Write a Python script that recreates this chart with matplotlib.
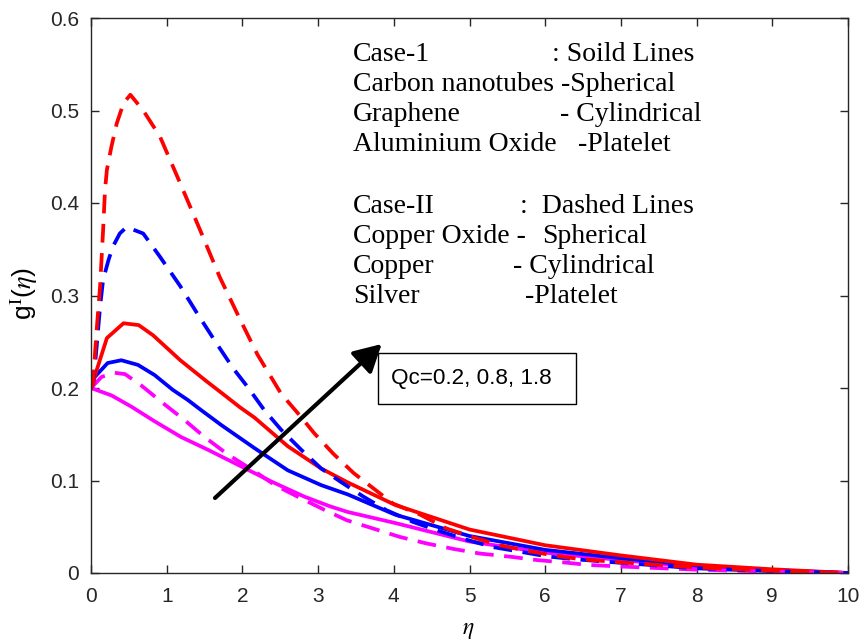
import matplotlib
matplotlib.use("Agg")
import matplotlib.pyplot as plt
from matplotlib.patches import Rectangle
import numpy as np

# ---- data ----
eta_red_solid = [0, 0.21, 0.43, 0.63, 0.82, 1.06, 1.18, 1.53, 1.72, 1.97, 2.16, 2.6, 3.04, 3.39, 4.02, 5.0, 6.0, 7.0, 8.0, 9.0, 10]
g_red_solid = [0.200, 0.254, 0.270, 0.268, 0.257, 0.239, 0.230, 0.207, 0.195, 0.179, 0.168, 0.137, 0.113, 0.098, 0.0735, 0.047, 0.030, 0.019, 0.009, 0.004, 0.0]

eta_blue_solid = [0, 0.05, 0.22, 0.40, 0.62, 0.84, 1.08, 1.28, 1.44, 1.72, 2.16, 2.6, 3.04, 3.39, 4.02, 5.0, 6.0, 7.0, 8.0, 9.0, 10]
g_blue_solid = [0.200, 0.212, 0.227, 0.230, 0.225, 0.214, 0.198, 0.187, 0.177, 0.160, 0.135, 0.111, 0.095, 0.085, 0.063, 0.040, 0.025, 0.016, 0.008, 0.003, 0.0]

eta_mag_solid = [0, 0.27, 0.53, 0.84, 1.19, 1.55, 1.94, 2.38, 2.82, 3.16, 3.39, 4.02, 5.0, 6.0, 7.0, 8.0, 9.0, 10]
g_mag_solid = [0.200, 0.192, 0.180, 0.164, 0.147, 0.133, 0.117, 0.099, 0.0825, 0.072, 0.066, 0.054, 0.034, 0.022, 0.014, 0.0065, 0.003, 0.0]

eta_red_dash = [0, 0.03, 0.053, 0.075, 0.12, 0.16, 0.185, 0.21, 0.27, 0.34, 0.43, 0.52, 0.69, 0.91, 1.18, 1.44, 1.70, 1.97, 2.2, 2.51, 2.73, 2.95, 3.2, 3.47, 3.73, 3.99, 4.35, 4.7, 5.05, 5.4, 5.76, 6.11, 6.46, 7.0, 8.0, 9.0, 10]
g_red_dash = [0.200, 0.205, 0.2375, 0.263, 0.31, 0.371, 0.414, 0.436, 0.461, 0.486, 0.508, 0.517, 0.50, 0.472, 0.421, 0.371, 0.32, 0.274, 0.236, 0.194, 0.173, 0.151, 0.129, 0.108, 0.0915, 0.075, 0.063, 0.048, 0.0385, 0.030, 0.024, 0.019, 0.015, 0.0115, 0.006, 0.0025, 0.0]

eta_blue_dash = [0, 0.03, 0.075, 0.12, 0.16, 0.23, 0.29, 0.38, 0.47, 0.69, 0.91, 1.18, 1.40, 1.66, 1.88, 2.07, 2.29, 2.51, 2.78, 3.04, 3.29, 3.6, 3.9, 4.26, 4.61, 4.96, 5.31, 5.67, 6.02, 6.37, 7.0, 8.0, 9.0, 10]
g_blue_dash = [0.200, 0.205, 0.245, 0.288, 0.317, 0.338, 0.353, 0.367, 0.374, 0.367, 0.342, 0.31, 0.281, 0.248, 0.221, 0.201, 0.176, 0.155, 0.133, 0.113, 0.099, 0.0825, 0.068, 0.055, 0.045, 0.036, 0.028, 0.023, 0.018, 0.015, 0.011, 0.005, 0.002, 0.0]

eta_mag_dash = [0, 0.14, 0.31, 0.45, 0.66, 0.93, 1.24, 1.5, 1.81, 2.16, 2.43, 2.73, 3.09, 3.38, 3.73, 4.08, 4.43, 4.79, 5.14, 5.54, 5.89, 6.24, 6.57, 7.0, 8.0, 9.0, 10]
g_mag_dash = [0.200, 0.212, 0.2165, 0.215, 0.203, 0.185, 0.165, 0.147, 0.128, 0.110, 0.095, 0.0825, 0.068, 0.057, 0.048, 0.039, 0.032, 0.026, 0.021, 0.0176, 0.014, 0.0115, 0.0087, 0.007, 0.0036, 0.0015, 0.0]

x_ticks = list(range(0, 11))
y_ticks = [0, 0.1, 0.2, 0.3, 0.4, 0.5, 0.6]
y_ticklabels = ["0", "0.1", "0.2", "0.3", "0.4", "0.5", "0.6"]

case1_left = ["Case-1", "Carbon nanotubes -Spherical", "Graphene", "Aluminium Oxide"]
case1_right = [": Soild Lines", "", "- Cylindrical", "-Platelet"]
case2_left = ["Case-II", "Copper Oxide -", "Copper", "Silver"]
case2_right = [":  Dashed Lines", "Spherical", "- Cylindrical", "-Platelet"]

# ---- figure ----
plt.rcParams['mathtext.fontset'] = 'stix'
fig = plt.figure(figsize=(8.64, 6.44), dpi=100)
ax = fig.add_axes([91/864, 1 - 573/644, 757/864, 555/644])

RED, BLUE, MAG = '#ff0000', '#0000ff', '#ff00ff'
lw = 2.7
dash = (5.0, 2.8)
ax.plot(eta_mag_solid, g_mag_solid, color=MAG, lw=lw)
ax.plot(eta_blue_solid, g_blue_solid, color=BLUE, lw=lw)
ax.plot(eta_red_solid, g_red_solid, color=RED, lw=lw)
ax.plot(eta_mag_dash, g_mag_dash, color=MAG, lw=lw, dashes=dash)
ax.plot(eta_blue_dash, g_blue_dash, color=BLUE, lw=lw, dashes=dash)
ax.plot(eta_red_dash, g_red_dash, color=RED, lw=lw, dashes=dash)

ax.set_xlim(0, 10)
ax.set_ylim(0, 0.6)
ax.set_xticks(x_ticks)
ax.set_yticks(y_ticks)
ax.set_yticklabels(y_ticklabels)
for lab in ax.get_xticklabels() + ax.get_yticklabels():
    lab.set_fontfamily('Liberation Sans')
    lab.set_fontsize(15)
    lab.set_color('#262626')
ax.tick_params(direction='in', length=6, width=1.0, top=True, right=True,
               colors='#262626')
ax.tick_params(axis='y', pad=8.5)
ax.tick_params(axis='x', pad=10)
for s in ax.spines.values():
    s.set_linewidth(1.0)
    s.set_color('#262626')

ax.set_xlabel(r'$\eta$', fontsize=17)
ax.xaxis.set_label_coords(0.498, -0.079)
ax.set_ylabel(r'g$^{\mathrm{I}}$($\eta$)', fontsize=19, family='Liberation Sans')
ax.yaxis.set_label_coords(-0.067, 0.5 + (573 - 294 - 277.5) / 555)

# serif annotation text
def px2data(x, y):
    return (x - 91) / 75.7, (573 - y) / 925.0

serif = dict(family='Liberation Serif', fontsize=20, color='black', va='baseline')
base1 = [61, 91, 121, 151]
base2 = [213, 243, 273, 303]
right1_x = [551.7, None, 560, 578.3]
right2_x = [520, 541.7, 513.3, 525]
for txt, rt, rx, by in zip(case1_left, case1_right, right1_x, base1):
    ax.text(*px2data(353, by), txt, **serif)
    if rt:
        ax.text(*px2data(rx, by), rt, **serif)
for txt, rt, rx, by in zip(case2_left, case2_right, right2_x, base2):
    ax.text(*px2data(353, by), txt, **serif)
    if rt:
        ax.text(*px2data(rx, by), rt, **serif)

# arrow
ax.annotate('', xy=px2data(381.7, 344), xytext=px2data(215, 498),
            arrowprops=dict(arrowstyle='-|>,head_length=0.55,head_width=0.3',
                            lw=3.0, color='black',
                            mutation_scale=30, shrinkA=0, shrinkB=0))

# Qc box
bx0, by0 = px2data(378.3, 404)
bx1, by1 = px2data(576, 352.7)
ax.add_patch(Rectangle((bx0, by0), bx1 - bx0, by1 - by0, fill=False,
                       edgecolor='black', lw=1.0, zorder=5))
ax.text(*px2data(391, 378.5), 'Qc=0.2, 0.8, 1.8', family='Liberation Sans',
        fontsize=16.2, va='center', ha='left', zorder=6)

fig.savefig('out.png', dpi=100)
